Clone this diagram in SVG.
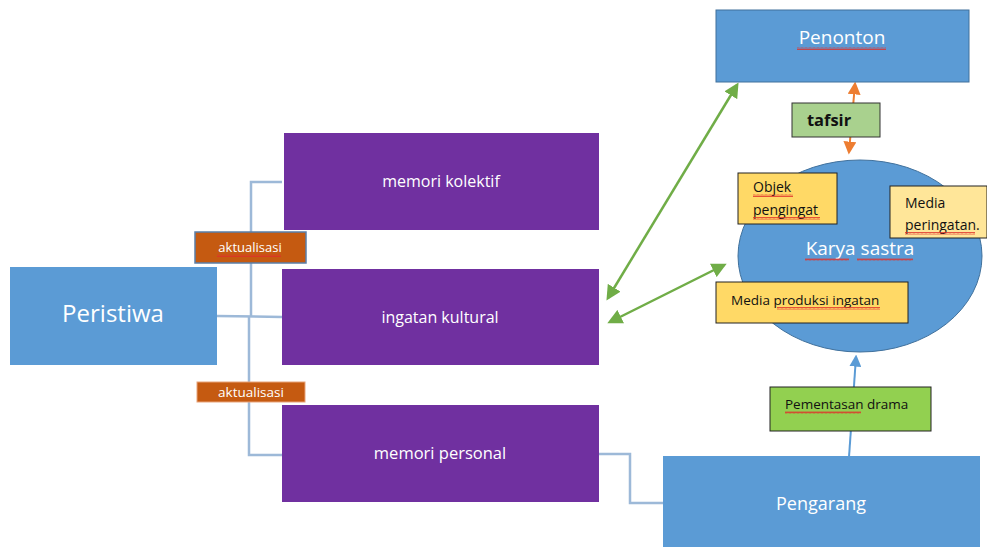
<svg xmlns="http://www.w3.org/2000/svg" width="987" height="547" viewBox="0 0 987 547">
<defs>
<style>
.blue{fill:#5B9BD5}
.purple{fill:#7030A0}
.wt{fill:#fff;font-family:"Open Sans","Liberation Sans",sans-serif;text-anchor:middle}
.bt{fill:#111;font-family:"Open Sans","Liberation Sans",sans-serif}
.conn{fill:none;stroke:#9DB9D8;stroke-width:2.5}
.sq{fill:url(#wave)}
</style>
<pattern id="wave" width="4" height="3" patternUnits="userSpaceOnUse"><path d="M0,2.5 L1,0.5 L2,2.5 L3,0.5 L4,2.5" fill="none" stroke="#E0302A" stroke-width="0.8"/></pattern>
<marker id="ag" viewBox="0 0 10 10" refX="8" refY="5" markerWidth="6" markerHeight="6" orient="auto-start-reverse"><path d="M0,0 L10,5 L0,10 z" fill="#70AD47"/></marker>
<marker id="ao" viewBox="0 0 10 10" refX="8" refY="5" markerWidth="6.5" markerHeight="6.5" orient="auto-start-reverse"><path d="M0,0 L10,5 L0,10 z" fill="#ED7D31"/></marker>
<marker id="ab" viewBox="0 0 10 10" refX="8" refY="5" markerWidth="6" markerHeight="6" orient="auto-start-reverse"><path d="M0,0 L10,5 L0,10 z" fill="#5B9BD5"/></marker>
</defs>
<rect width="987" height="547" fill="#fff"/>
<g id="connectors">
<polyline class="conn" points="282,182 251,182 251,317"/>
<polyline class="conn" points="217,316 282,317"/>
<polyline class="conn" points="249,317 249,455 282,455"/>
<polyline class="conn" points="599,454 630,454 630,503 663,503"/>
<line x1="608" y1="298" x2="737" y2="85" stroke="#70AD47" stroke-width="2.5" marker-start="url(#ag)" marker-end="url(#ag)"/>
<line x1="610" y1="322" x2="724" y2="265" stroke="#70AD47" stroke-width="2.5" marker-start="url(#ag)" marker-end="url(#ag)"/>
<line x1="849" y1="152" x2="855" y2="84" stroke="#ED7D31" stroke-width="2" marker-start="url(#ao)" marker-end="url(#ao)"/>
<line x1="849" y1="457" x2="856" y2="357" stroke="#5B9BD5" stroke-width="2" marker-end="url(#ab)"/>
</g>
<g id="peristiwa">
<rect class="blue" x="10" y="267" width="207" height="98"/>
<text class="wt" x="113" y="322" font-size="24">Peristiwa</text>
</g>
<g id="memori-kolektif">
<rect class="purple" x="284" y="133" width="315" height="97"/>
<text class="wt" x="441" y="187" font-size="16">memori kolektif</text>
</g>
<g id="ingatan-kultural">
<rect class="purple" x="282" y="269" width="317" height="96"/>
<text class="wt" x="440" y="323" font-size="16">ingatan kultural</text>
</g>
<g id="memori-personal">
<rect class="purple" x="282" y="405" width="317" height="97"/>
<text class="wt" x="440" y="459" font-size="16.5">memori personal</text>
</g>
<g id="aktualisasi-1">
<rect x="195" y="232" width="111" height="31" fill="#C55A11" stroke="#5A7FA8" stroke-width="1.5"/>
<text class="wt" x="250" y="252" font-size="13">aktualisasi</text>
<rect class="sq" x="217" y="254" width="64" height="3"/>
</g>
<g id="aktualisasi-2">
<rect x="197" y="382" width="108" height="20" fill="#C55A11" stroke="#E8A37A" stroke-width="1"/>
<text class="wt" x="251" y="397" font-size="13.5">aktualisasi</text>
</g>
<g id="penonton">
<rect class="blue" x="716" y="10" width="253" height="72" stroke="#41719C" stroke-width="1"/>
<text class="wt" x="842" y="44" font-size="19">Penonton</text>
<rect class="sq" x="797" y="47" width="89" height="3"/>
</g>
<g id="tafsir">
<rect x="792" y="103" width="88" height="34" fill="#A9D18E" stroke="#333" stroke-width="1"/>
<text x="829" y="126" font-size="16.5" font-weight="bold" text-anchor="middle" fill="#111" font-family="Open Sans, Liberation Sans, sans-serif">tafsir</text>
</g>
<g id="karya-sastra">
<ellipse cx="860" cy="256" rx="122" ry="96" class="blue" stroke="#41719C" stroke-width="1"/>
<text class="wt" x="860" y="255" font-size="19">Karya sastra</text>
<rect class="sq" x="805" y="258" width="44" height="3"/>
<rect class="sq" x="857" y="258" width="56" height="3"/>
</g>
<g id="objek-pengingat">
<rect x="738" y="173" width="99" height="51" fill="#FFD966" stroke="#222" stroke-width="1"/>
<text class="bt" x="753" y="192" font-size="14">Objek</text>
<rect class="sq" x="753" y="194" width="40" height="3"/>
<text class="bt" x="753" y="215" font-size="14">pengingat</text>
<rect class="sq" x="753" y="217" width="67" height="3"/>
</g>
<g id="media-peringatan">
<rect x="890" y="186" width="97" height="52" fill="#FFE699" stroke="#222" stroke-width="1"/>
<text class="bt" x="905" y="208" font-size="14">Media</text>
<text class="bt" x="905" y="230" font-size="14">peringatan.</text>
<rect class="sq" x="905" y="232" width="70" height="3"/>
</g>
<g id="media-produksi">
<rect x="716" y="282" width="192" height="41" fill="#FFD966" stroke="#222" stroke-width="1"/>
<text class="bt" x="731" y="305" font-size="13.5">Media produksi ingatan</text>
<rect class="sq" x="777" y="307" width="103" height="3"/>
</g>
<g id="pementasan">
<rect x="770" y="387" width="161" height="44" fill="#92D050" stroke="#222" stroke-width="1"/>
<text class="bt" x="785" y="409" font-size="13.5">Pementasan drama</text>
<rect class="sq" x="785" y="411" width="76" height="3"/>
</g>
<g id="pengarang">
<rect class="blue" x="663" y="456" width="317" height="91"/>
<text class="wt" x="821" y="510" font-size="18">Pengarang</text>
</g>
</svg>
